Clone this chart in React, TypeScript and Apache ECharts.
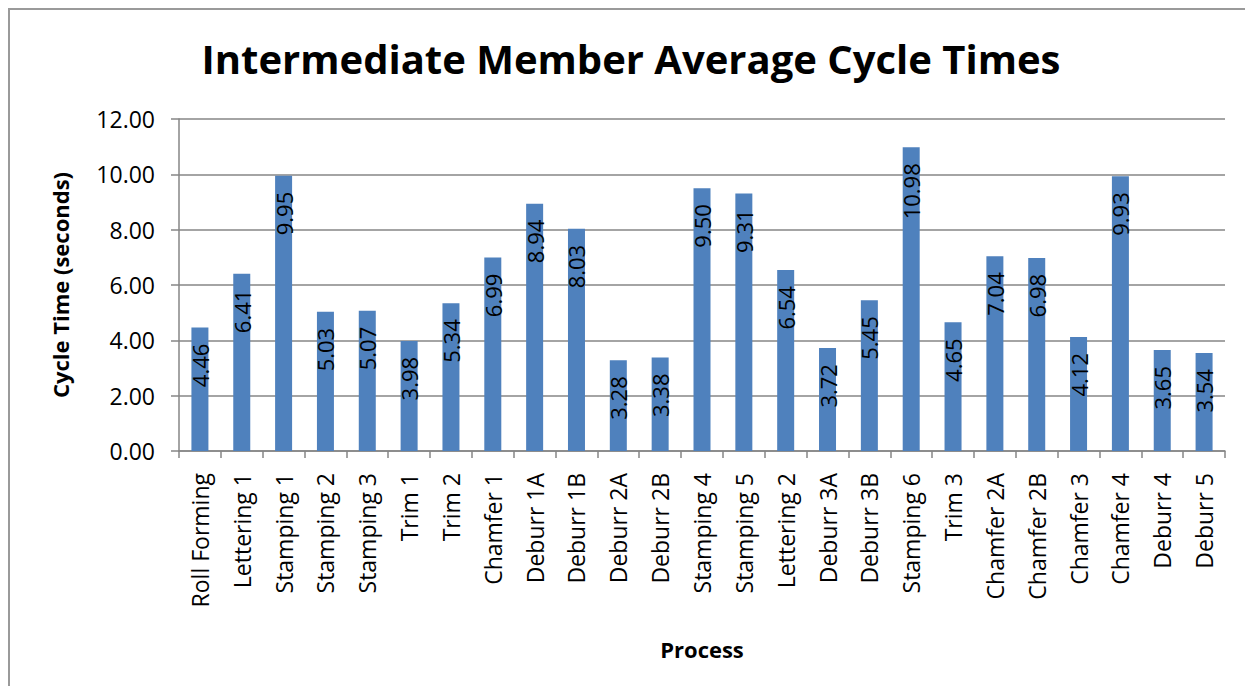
import React, { useEffect, useRef } from "react";
import * as echarts from "echarts";

const categories = [
  "Roll Forming", "Lettering 1", "Stamping 1", "Stamping 2", "Stamping 3",
  "Trim 1", "Trim 2", "Chamfer 1", "Deburr 1A", "Deburr 1B",
  "Deburr 2A", "Deburr 2B", "Stamping 4", "Stamping 5", "Lettering 2",
  "Deburr 3A", "Deburr 3B", "Stamping 6", "Trim 3", "Chamfer 2A",
  "Chamfer 2B", "Chamfer 3", "Chamfer 4", "Deburr 4", "Deburr 5",
];
const cycleTimes = [
  4.46, 6.41, 9.95, 5.03, 5.07,
  3.98, 5.34, 6.99, 8.94, 8.03,
  3.28, 3.38, 9.5, 9.31, 6.54,
  3.72, 5.45, 10.98, 4.65, 7.04,
  6.98, 4.12, 9.93, 3.65, 3.54,
];
const yMin = 0;
const yMax = 12;
const yStep = 2;

const FONT = "'Open Sans', 'Noto Sans', sans-serif";
const GRAY = "#868686";

export default function App() {
  const ref = useRef<HTMLDivElement>(null);
  useEffect(() => {
    if (!ref.current) return;
    const chart = echarts.init(ref.current, null, { renderer: "svg" });
    chart.setOption({
      animation: false,
      backgroundColor: "#ffffff",
      textStyle: { fontFamily: FONT, color: "#000" },
      title: {
        text: "Intermediate Member Average Cycle Times",
        left: 616,
        top: 23,
        textAlign: "center",
        textStyle: { fontFamily: FONT, fontSize: 40, fontWeight: "bold", color: "#000" },
      },
      grid: { left: 169, right: 20, top: 109, height: 332, containLabel: false },
      xAxis: {
        type: "category",
        data: categories,
        name: "Process",
        nameLocation: "middle",
        nameGap: 187,
        nameTextStyle: { fontFamily: FONT, fontSize: 22, fontWeight: "bold", color: "#000" },
        axisLine: { lineStyle: { color: GRAY, width: 1.5 } },
        axisTick: { show: true, length: 7, lineStyle: { color: GRAY, width: 1.5 } },
        axisLabel: {
          rotate: 90,
          margin: 22,
          interval: 0,
          fontFamily: FONT,
          fontSize: 23,
          color: "#000",
        },
      },
      yAxis: {
        type: "value",
        min: yMin,
        max: yMax,
        interval: yStep,
        name: "Cycle Time (seconds)",
        nameLocation: "middle",
        nameGap: 108,
        nameTextStyle: { fontFamily: FONT, fontSize: 22, fontWeight: "bold", color: "#000" },
        axisLine: { show: true, lineStyle: { color: GRAY, width: 1.5 } },
        axisTick: { show: true, length: 8, lineStyle: { color: GRAY, width: 1.5 } },
        axisLabel: {
          margin: 24,
          fontFamily: FONT,
          fontSize: 23,
          color: "#000",
          formatter: (v: number) => v.toFixed(2),
        },
        splitLine: { lineStyle: { color: GRAY, width: 1.5 } },
      },
      series: [
        {
          type: "bar",
          data: cycleTimes,
          barWidth: 17,
          itemStyle: { color: "#4F81BD" },
          label: {
            show: true,
            position: "insideTop",
            distance: 16,
            rotate: 90,
            align: "right",
            verticalAlign: "middle",
            fontFamily: FONT,
            fontSize: 22,
            color: "#000",
            formatter: (p: any) => Number(p.value).toFixed(2),
          },
        },
      ],
    });
    return () => chart.dispose();
  }, []);
  return (
    <div
      ref={ref}
      style={{
        width: 1237,
        height: 678,
        boxSizing: "border-box",
        borderLeft: "2px solid #9a9a9a",
        borderTop: "2px solid #9a9a9a",
      }}
    />
  );
}
